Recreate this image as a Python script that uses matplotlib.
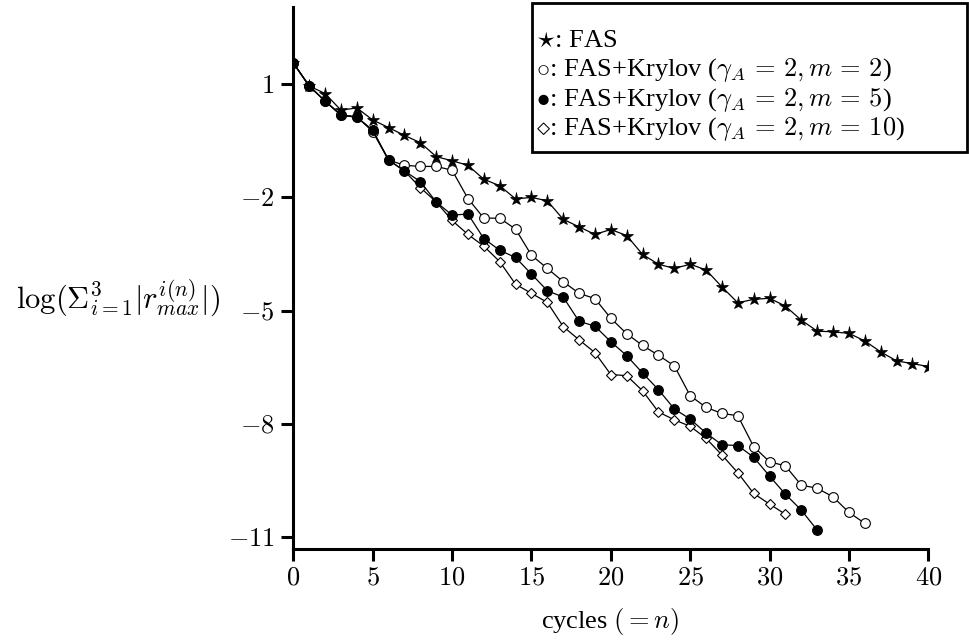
import numpy as np
import matplotlib.pyplot as plt
from matplotlib.patches import Rectangle

plt.rcParams['font.family'] = ['Liberation Serif', 'DejaVu Serif']
plt.rcParams['mathtext.fontset'] = 'cm'

# log residual per cycle
fas = [1.56, 0.95, 0.75, 0.31, 0.37, 0.05, -0.15, -0.36, -0.55, -0.92,
       -1.03, -1.15, -1.52, -1.69, -2.04, -2.00, -2.09, -2.58, -2.78, -2.98,
       -2.85, -3.01, -3.51, -3.77, -3.88, -3.77, -3.92, -4.37, -4.79, -4.70,
       -4.67, -4.88, -5.25, -5.54, -5.56, -5.60, -5.80, -6.09, -6.33, -6.40,
       -6.48]
kry_m2 = [1.56, 0.95, 0.55, 0.18, 0.14, -0.26, -1.01, -1.15, -1.18, -1.18,
          -1.28, -2.03, -2.55, -2.55, -2.84, -3.53, -3.88, -4.23, -4.54, -4.68,
          -5.20, -5.61, -5.92, -6.18, -6.46, -7.25, -7.56, -7.72, -7.78, -8.60,
          -9.00, -9.11, -9.62, -9.70, -9.93, -10.34, -10.63]
kry_m5 = [1.56, 0.95, 0.55, 0.18, 0.12, -0.22, -1.01, -1.30, -1.58, -2.12,
          -2.47, -2.44, -3.09, -3.40, -3.59, -4.03, -4.47, -4.64, -5.28, -5.41,
          -5.82, -6.19, -6.65, -7.09, -7.60, -7.87, -8.24, -8.55, -8.57, -8.88,
          -9.38, -9.86, -10.28, -10.81]
kry_m10 = [1.56, 0.95, 0.55, 0.18, 0.12, -0.22, -1.01, -1.30, -1.74, -2.12,
           -2.61, -2.98, -3.29, -3.70, -4.30, -4.54, -4.78, -5.42, -5.77, -6.11,
           -6.69, -6.72, -7.12, -7.68, -7.89, -8.06, -8.38, -8.82, -9.29, -9.84,
           -10.12, -10.39]

xticks = [0, 5, 10, 15, 20, 25, 30, 35, 40]
yticks = [1, -2, -5, -8, -11]

legend_lines = [r'$\star$: FAS',
                r'$\circ$: FAS+Krylov ($\gamma_A\,=\,2, m\,=\,2$)',
                r'$\bullet$: FAS+Krylov ($\gamma_A\,=\,2, m\,=\,5$)',
                r'$\diamond$: FAS+Krylov ($\gamma_A\,=\,2, m\,=\,10$)']

fig = plt.figure(figsize=(9.69, 6.41), dpi=100)
ax = fig.add_axes([0.3027, 0.1435, 0.6553, 0.8455])

lw = 0.9
ax.plot(np.arange(len(fas)), fas, '-', color='black', lw=lw,
        marker='*', markersize=9.5, markerfacecolor='black', markeredgewidth=0.5)
ax.plot(np.arange(len(kry_m10)), kry_m10, '-', color='black', lw=lw,
        marker='D', markersize=5, markerfacecolor='white', markeredgewidth=0.8)
ax.plot(np.arange(len(kry_m2)), kry_m2, '-', color='black', lw=lw,
        marker='o', markersize=7, markerfacecolor='white', markeredgewidth=0.8)
ax.plot(np.arange(len(kry_m5)), kry_m5, '-', color='black', lw=lw,
        marker='o', markersize=7, markerfacecolor='black', markeredgewidth=0.8)

ax.set_xlim(0, 40)
ax.set_ylim(-11.31, 3.04)
for s in ['top', 'right']:
    ax.spines[s].set_visible(False)
for s in ['left', 'bottom']:
    ax.spines[s].set_linewidth(2.2)
ax.spines['bottom'].set_bounds(0, 40)
ax.set_xticks(xticks)
ax.set_xticklabels([f'${t}$' for t in xticks])
ax.set_yticks(yticks)
ax.set_yticklabels([f'${t}$' for t in yticks])
ax.tick_params(direction='out', length=8.5, width=2.2, labelsize=19, pad=5)

fig.text(0.122, 0.535, r'$\log(\Sigma_{i=1}^{3}|r_{max}^{i(n)}|)$',
         ha='center', va='center', fontsize=22)
fig.text(0.63, 0.03, r'cycles $(= n)$', ha='center', va='center', fontsize=19)

# legend box made of text lines
fig.patches.append(Rectangle((532 / 969, 1 - 152 / 641), 435 / 969, 149 / 641,
                             transform=fig.transFigure, fill=False,
                             edgecolor='black', linewidth=2.0))
for i, txt in enumerate(legend_lines):
    fig.text(536 / 969, 1 - (41 + 29.5 * i) / 641, txt, ha='left',
             va='center', fontsize=19)

plt.savefig('out.png', dpi=100)
